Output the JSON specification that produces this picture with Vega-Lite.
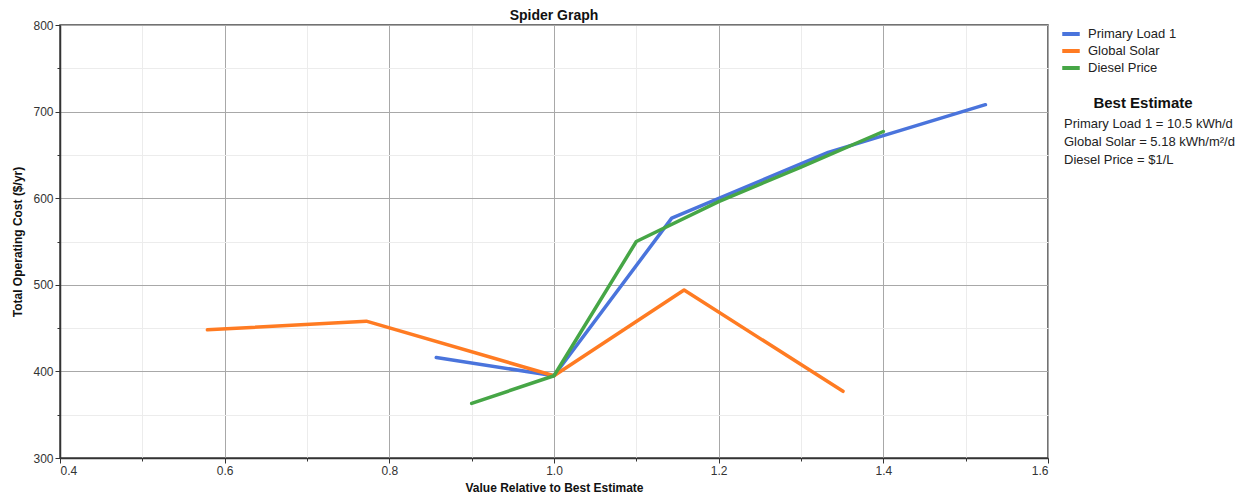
{
  "$schema": "https://vega.github.io/schema/vega-lite/v6.json",
  "width": 988,
  "height": 433,
  "autosize": {"type": "none"},
  "padding": {"left": 60, "top": 25, "right": 201, "bottom": 37},
  "background": "white",
  "title": {
    "text": "Spider Graph",
    "font": "Liberation Sans",
    "fontSize": 14,
    "fontWeight": "bold",
    "color": "#111111",
    "anchor": "middle",
    "offset": -4
  },
  "datasets": {
    "estimates": [
      {"series": "Primary Load 1", "estimate": "Primary Load 1 = 10.5 kWh/d"},
      {"series": "Global Solar", "estimate": "Global Solar = 5.18 kWh/m²/d"},
      {"series": "Diesel Price", "estimate": "Diesel Price = $1/L"}
    ]
  },
  "data": {
    "values": [
      {"series": "Primary Load 1", "ratio": 0.857, "cost": 416},
      {"series": "Primary Load 1", "ratio": 1.0, "cost": 395},
      {"series": "Primary Load 1", "ratio": 1.143, "cost": 577},
      {"series": "Primary Load 1", "ratio": 1.333, "cost": 653},
      {"series": "Primary Load 1", "ratio": 1.524, "cost": 708},
      {"series": "Global Solar", "ratio": 0.579, "cost": 448},
      {"series": "Global Solar", "ratio": 0.772, "cost": 458},
      {"series": "Global Solar", "ratio": 1.0, "cost": 395},
      {"series": "Global Solar", "ratio": 1.158, "cost": 494},
      {"series": "Global Solar", "ratio": 1.351, "cost": 377},
      {"series": "Diesel Price", "ratio": 0.9, "cost": 363},
      {"series": "Diesel Price", "ratio": 1.0, "cost": 395},
      {"series": "Diesel Price", "ratio": 1.1, "cost": 550},
      {"series": "Diesel Price", "ratio": 1.2, "cost": 596},
      {"series": "Diesel Price", "ratio": 1.3, "cost": 636},
      {"series": "Diesel Price", "ratio": 1.4, "cost": 677}
    ]
  },
  "transform": [
    {"lookup": "series", "from": {"data": {"name": "estimates"}, "key": "series", "fields": ["estimate"]}}
  ],
  "mark": {"type": "line", "strokeWidth": 3.5, "strokeCap": "round", "strokeJoin": "round"},
  "encoding": {
    "x": {
      "field": "ratio",
      "type": "quantitative",
      "scale": {"domain": [0.4, 1.6], "nice": false, "zero": false},
      "axis": {
        "title": "Value Relative to Best Estimate",
        "values": [0.4, 0.5, 0.6, 0.7, 0.8, 0.9, 1.0, 1.1, 1.2, 1.3, 1.4, 1.5, 1.6],
        "labelExpr": "round(datum.value * 10) % 2 === 0 ? format(datum.value, '.1f') : ''",
        "gridColor": {"condition": {"test": "round(datum.value * 10) % 2 === 0", "value": "#a8a8a8"}, "value": "#ececec"},
        "tickSize": {"condition": {"test": "round(datum.value * 10) % 2 === 0", "value": 5}, "value": 3},
        "titlePadding": 6
      }
    },
    "y": {
      "field": "cost",
      "type": "quantitative",
      "scale": {"domain": [300, 800], "nice": false, "zero": false},
      "axis": {
        "title": "Total Operating Cost ($/yr)",
        "values": [300, 350, 400, 450, 500, 550, 600, 650, 700, 750, 800],
        "labelExpr": "datum.value % 100 === 0 ? datum.label : ''",
        "gridColor": {"condition": {"test": "datum.value % 100 === 0", "value": "#a8a8a8"}, "value": "#ececec"},
        "tickSize": {"condition": {"test": "datum.value % 100 === 0", "value": 5}, "value": 3},
        "titlePadding": 8
      }
    },
    "color": {
      "field": "series",
      "type": "nominal",
      "scale": {
        "domain": ["Primary Load 1", "Global Solar", "Diesel Price"],
        "range": ["#4a74dc", "#ff7b22", "#46a646"]
      },
      "legend": {
        "title": null,
        "orient": "none",
        "legendX": 1002,
        "legendY": 0,
        "symbolType": "M-1.25,0L1.25,0",
        "symbolSize": 196,
        "symbolStrokeWidth": 4,
        "labelFontSize": 13,
        "labelColor": "#222222",
        "rowPadding": 0,
        "labelOffset": 8
      }
    },
    "opacity": {
      "field": "estimate",
      "type": "nominal",
      "scale": {
        "domain": ["Primary Load 1 = 10.5 kWh/d", "Global Solar = 5.18 kWh/m²/d", "Diesel Price = $1/L"],
        "range": [1, 1, 1]
      },
      "legend": {
        "title": "Best Estimate",
        "orient": "none",
        "legendX": 991,
        "legendY": 71,
        "titleFontSize": 15,
        "titleFontWeight": "bold",
        "titleColor": "#111111",
        "titleAnchor": "middle",
        "titleAlign": "center",
        "titlePadding": 6,
        "titleLimit": 250,
        "symbolSize": 0,
        "symbolStrokeWidth": 0,
        "labelOffset": 0,
        "labelLimit": 250,
        "labelFontSize": 13,
        "labelColor": "#222222",
        "rowPadding": 4
      }
    },
    "order": {"field": "ratio", "type": "quantitative"}
  },
  "config": {
    "font": "Liberation Sans",
    "view": {"stroke": "#444444", "strokeWidth": 1.5},
    "axis": {
      "labelFont": "Liberation Sans",
      "labelFontSize": 12,
      "labelColor": "#333333",
      "titleFont": "Liberation Sans",
      "titleFontSize": 12,
      "titleFontWeight": "bold",
      "titleColor": "#111111",
      "domainColor": "#333333",
      "domainWidth": 1.5,
      "tickColor": "#333333",
      "gridWidth": 1,
      "labelPadding": 2
    },
    "legend": {"labelFont": "Liberation Sans", "titleFont": "Liberation Sans"}
  }
}
